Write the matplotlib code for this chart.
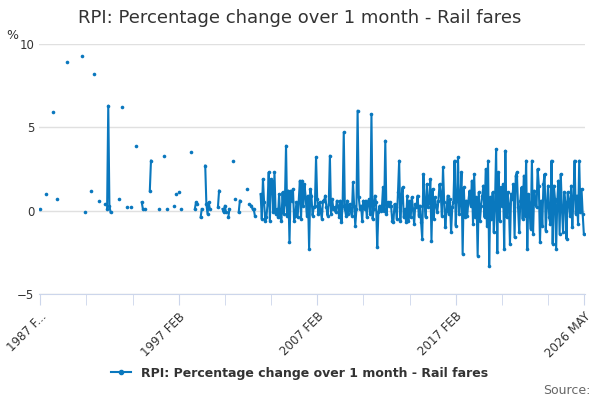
import numpy as np
import matplotlib
matplotlib.use("Agg")
import matplotlib.pyplot as plt

title = "RPI: Percentage change over 1 month - Rail fares"
series_name = "RPI: Percentage change over 1 month - Rail fares"
tick_labels = ["1987 F...", "1997 FEB", "2007 FEB", "2017 FEB", "2026 MAY"]
tick_months = [0, 120, 240, 360, 471]

# sparse early observations: month index from 1987 FEB -> value
early_idx = [0, 5, 11, 15, 23, 36, 39, 44, 47, 51, 56, 58, 59, 60, 61, 68, 71, 75, 79, 83,
             88, 89, 91, 95, 96, 103, 107, 110, 116, 118, 120, 122, 131, 134, 135, 136, 139, 140,
             143, 144, 145, 146, 147, 154, 155, 158, 159, 160, 161, 163, 164, 167, 169, 172, 173,
             179, 181, 183, 184, 185, 186]
early_val = [0.1, 1.0, 5.9, 0.7, 8.9, 9.3, -0.1, 1.2, 8.2, 0.6, 0.4, 0.1, 6.3, 0.3, -0.1, 0.7, 6.2, 0.2, 0.2, 3.9,
             0.5, 0.1, 0.1, 1.2, 3.0, 0.1, 3.3, 0.1, 0.3, 1.0, 1.1, 0.1, 3.5, 0.1, 0.5, 0.4, -0.4, 0.1,
             2.7, 0.4, -0.2, 0.5, 0.1, 0.2, 1.2, 0.1, -0.1, 0.3, -0.1, -0.4, 0.1, 3.0, 0.7, -0.1, 0.6,
             1.3, 0.4, 0.3, 0.1, 0.1, -0.3]

# monthly values Jan..Dec from 2003
y2003 = [1.0, -0.5, 1.9, 0.5, -0.6, -0.4, 0.4, 2.3, -0.6, 1.9, 1.8, -0.1]
y2004 = [2.3, -0.2, 0.1, -0.4, 1.0, -0.4, -0.6, 1.1, -0.2, 0.4, 3.9, -0.3]
y2005 = [1.2, -1.9, 1.2, 0.6, 1.3, -0.6, -0.3, 0.5, -0.4, 0.6, 1.8, -0.5]
y2006 = [1.8, 0.3, 1.6, 0.8, -0.3, 0.9, -2.3, 1.3, 0.9, -0.3, 0.2, 0.3]
y2007 = [3.2, 0.7, -0.2, 0.5, 0.0, -0.5, 0.6, 0.6, 0.9, 0.2, -0.3, 0.4]
y2008 = [3.3, -0.2, 0.7, 0.1, 0.2, -0.1, 0.6, 0.3, -0.4, 0.6, -0.7, 0.3]
y2009 = [4.7, 0.1, -0.3, 0.6, -0.2, 0.4, 0.0, -0.3, 1.7, 0.3, -0.9, 0.1]
y2010 = [6.0, 0.8, 0.1, 0.3, -0.6, 0.6, 0.1, 0.6, -0.4, 0.5, 0.7, -0.2]
y2011 = [5.8, -0.5, 0.1, 0.9, 0.5, -2.2, -0.1, 0.3, 0.0, 0.1, 1.4, 0.0]
y2012 = [4.2, -0.2, 0.5, 0.3, 0.5, 0.3, -0.6, -0.7, 0.4, 0.2, -0.5, 1.1]
y2013 = [3.0, -0.6, 0.8, 1.4, -0.4, 0.1, -0.7, 0.9, -0.6, 0.6, -0.4, 0.8]
y2014 = [0.1, -0.8, 0.4, 0.2, 0.9, -0.3, 0.3, -0.7, -1.7, 2.2, 0.5, -0.4]
y2015 = [1.6, 0.2, 0.5, 1.9, -1.8, 1.3, -0.5, 0.8, 0.3, -0.1, 0.6, 1.6]
y2016 = [1.0, -0.3, 2.6, 0.5, -1.0, 0.0, 0.9, -0.2, 0.7, -1.3, 0.2, 0.5]
y2017 = [3.0, -0.9, 0.6, 3.2, -0.2, 0.6, 2.3, -2.6, 1.4, -0.4, 0.6, -0.3]
y2018 = [0.6, 1.2, 0.3, 1.8, -0.8, 2.2, -0.4, 0.8, -2.7, 1.1, -0.6, 0.3]
y2019 = [0.9, 1.5, -0.4, 2.5, -0.9, 3.0, -3.3, 0.8, -0.5, 1.1, -1.3, 0.3]
y2020 = [3.7, -2.5, 2.3, -0.6, 1.4, 0.3, 1.6, -2.3, 3.6, -0.4, 1.1, 0.4]
y2021 = [-2.0, 1.0, 0.7, 1.6, -1.6, 2.1, 2.3, 0.2, -1.3, 0.6, 1.4, -0.5]
y2022 = [2.1, -0.3, 3.0, -2.3, 1.0, 0.2, -1.1, 3.0, -1.4, 1.2, 0.4, 0.2]
y2023 = [2.5, 1.5, -1.9, 0.6, -0.9, 1.6, 2.2, -1.2, 0.3, 1.5, -0.4, -0.8]
y2024 = [3.0, -2.0, 1.5, 0.7, -2.3, 0.6, 1.8, -1.4, 2.2, 0.1, -1.3, 1.1]
y2025 = [0.5, -1.7, 1.1, 0.6, -0.3, 1.5, -1.0, 0.8, 3.0, -0.2, 0.9, -0.8]
y2026 = [3.0, -0.1, 1.3, -0.2, -1.4]

years = [y2003, y2004, y2005, y2006, y2007, y2008, y2009, y2010, y2011, y2012, y2013,
         y2014, y2015, y2016, y2017, y2018, y2019, y2020, y2021, y2022, y2023, y2024, y2025, y2026]

n = 472
vals = np.full(n, np.nan)
for i, v in zip(early_idx, early_val):
    vals[i] = v
start = 191
monthly = [v for y in years for v in y]
vals[start:start + len(monthly)] = monthly
x = np.arange(n)

color = "#0a78be"
fig = plt.figure(figsize=(6, 4), dpi=100)
ax = fig.add_axes([0.065, 0.265, 0.91, 0.625])
ax.plot(x, vals, color=color, lw=1.5, marker="o", ms=2.6, mew=0)
ax.set_xlim(-1, 472)
ax.set_ylim(-5, 10)
ax.set_yticks([-5, 0, 5, 10])
ax.tick_params(axis="y", length=0, labelsize=8.5, colors="#333333")
ax.grid(axis="y", color="#e0e0e0", lw=1)
ax.set_axisbelow(True)
for s in ["top", "right", "left"]:
    ax.spines[s].set_visible(False)
ax.spines["bottom"].set_position(("data", -5))
ax.spines["bottom"].set_color("#ccd6eb")
ax.set_xticks(tick_months)
ax.set_xticklabels(tick_labels, rotation=45, ha="right", rotation_mode="anchor", fontsize=8.5, color="#333333")
ax.set_xticks(np.arange(0, 472, 40), minor=True)
ax.tick_params(axis="x", which="both", length=8, color="#ccd6eb")
ax.text(-0.06, 1.02, "%", transform=ax.transAxes, fontsize=9, color="#333333")
fig.text(0.5, 0.955, title, ha="center", va="center", fontsize=13, color="#333333")
ax.plot([], [], color=color, lw=1.5, marker="o", ms=3, label=series_name)
h, l = ax.get_legend_handles_labels()
fig.legend(h[-1:], l[-1:], loc="center", bbox_to_anchor=(0.5, 0.067), frameon=False,
           prop={"size": 9, "weight": "bold"}, handlelength=1.6, labelcolor="#333333")
fig.text(0.985, 0.025, "Source:", ha="right", va="center", fontsize=9, color="#666666")
fig.savefig("out.png", dpi=100)
